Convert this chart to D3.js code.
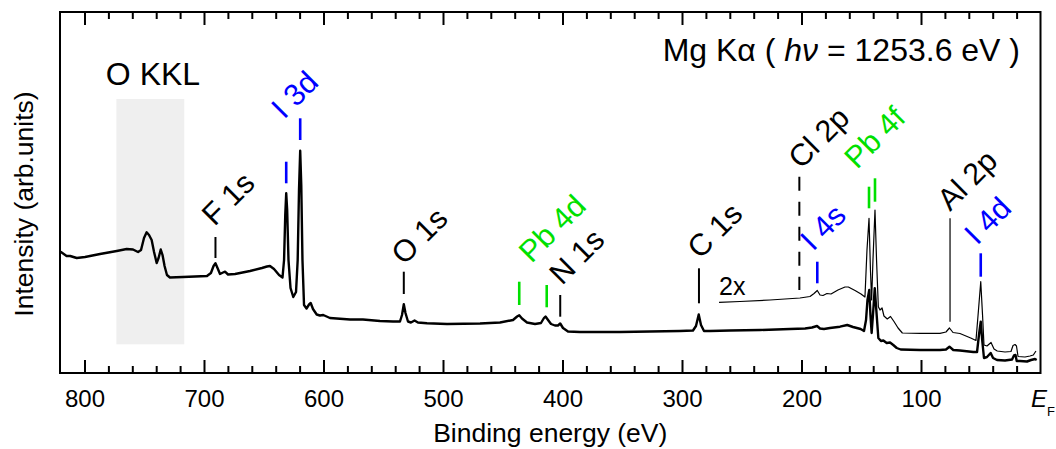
<!DOCTYPE html>
<html>
<head>
<meta charset="utf-8">
<script src="https://cdn.jsdelivr.net/npm/d3@7/dist/d3.min.js"></script>
<style>
  html, body { margin: 0; padding: 0; background: #fff; }
  svg { display: block; font-family: "Liberation Sans", Arial, Helvetica, sans-serif; }
</style>
</head>
<body>
<svg id="chart" width="1056" height="449"></svg>
<script>
// ---------------- DATA ----------------
// Main survey spectrum: binding energy (eV) and intensity (arb. units)
const mainEnergy = [820.5,819.7,815,812,806.5,799.6,787,773,764.7,759.4,755.2,752.7,750.2,748,746,743.8,741.8,739.6,738,736.2,734.7,733,731,728.5,717.6,707.5,697.5,694.2,692,690.4,688.7,686.6,684.1,682.4,679.9,674,661.5,651.5,647.3,644.8,641.4,637.2,634.3,633,632,631.2,630.4,629.3,627.6,625.3,623,621.6,620.5,619.5,618.6,617.6,616.3,614.2,612.1,610.7,608.8,605.7,603,600.2,594.6,589,577.8,567,552.7,541.8,536,534.3,532.8,531.4,529.3,526.8,523.8,521,513.4,496.6,469,452.3,441.4,438,436.2,433.9,429.7,423,418,415.5,414.2,412.1,409.6,406.3,403.8,401.9,399.6,395.4,385.4,368.6,351.9,326.8,301.7,290.8,288.3,286,284.1,281.6,276.6,259.8,234.7,209.6,197,191.2,187,184.5,181.2,176.2,167.8,161.7,156.9,150.5,147.7,146,144.8,143.3,142.3,141.3,140.2,138.7,137.4,135.7,133.5,131.5,128.7,125.9,123.2,120.3,117,100.8,84.1,79.1,76.2,73,67.4,56.2,53.1,51.5,50,48.8,47.3,44.8,41.7,39.7,36.4,29.7,23.8,22.2,20.9,19.9,17.2,11.3,7.9,4.6,3.2];
const mainIntensity = [121,121,117,117,115,116,119,122,124,123.5,121,123,135,140.7,138,133,121,110,115,123.5,118,107,98,95.5,96,96.5,97,100,107,109.7,105,99,100.5,101.3,98.5,99,102,105,106.5,107,104,98,95.5,113,158,179.7,163,113,85,76,81,113,183,222.3,188,113,68,64.5,68.5,70,64,58.5,57.5,58,55,54.5,53.5,53.5,52,51.5,51.5,58,68.7,60,51.5,50.5,52.5,50.5,49.7,49,49.5,50.5,53,56.5,57.7,54.5,50.5,49,50,55,56.5,53,49,47.5,47.5,49.5,45,41.5,41,41,41,41.5,42,42.5,47,58.5,48,42,42,42.5,43,44,44.5,45.5,47,44.5,44,45,46.3,48,46,44,42,53,73,83,58,40,58,84.7,63,35,32,32.5,30,30.5,28,25,23.5,23,23,23.5,26.3,23,22.5,21,21,38,51.3,33,15,16,20,15,13,12.5,13.5,17.5,18,12,12,11.5,13,14,13];

// Magnified (2x) low-binding-energy part of the spectrum
const zoomEnergy = [269,251.5,226.4,201.3,192.9,189.5,186.8,184.5,182,178.7,175.3,169.5,163.6,160.8,155.2,150.2,146.9,145.2,143.5,142.3,141.3,140.2,138.5,137.2,135.7,134.3,132.6,131,128.2,125.5,122.6,119.2,115.6,100.8,84.1,79.1,76.2,73.2,67.4,58.4,54,51.9,50,48.5,47.3,44.8,41.4,38.9,36.2,29.7,24.7,23,21.3,20.1,18.8,13,8.8,6,3.8];
const zoomIntensity = [70.7,71.5,73,75,76.5,79.5,82.5,78,77.5,79.5,79,83,86,86,82.5,79,76,123,154.7,103,73,113,163,113,66.3,63,65,57,54,56.5,51.5,45,40,39.7,39.7,41,45,40.5,39.5,35,32.5,63,91.3,58,28,27,30.5,24,22,21,21.5,27.5,28.5,27,16.5,16,17,18,22];

// Axis ticks
const majorTicks = [800,700,600,500,400,300,200,100];
const minorTicks = [780,760,740,720,680,660,640,620,580,560,540,520,480,460,440,420,380,360,340,320,280,260,240,220,180,160,140,120,80,60,40,20];

// Peak assignments (label text, label energy, label intensity level)
const peakNames      = ["F 1s","I 3d","O 1s","Pb 4d","N 1s","C 1s","Cl 2p","I 4s","Pb 4f","Al 2p","I 4d"];
const peakLabelE     = [691.2, 633, 532.6, 426, 400.4, 285, 200.4, 190.4, 153.6, 75.7, 53.1];
const peakLabelI     = [146, 253, 107, 109, 87, 113, 203, 121, 203, 161, 127];
const peakGroup      = ["other","iodine","other","lead","other","other","other","iodine","lead","other","iodine"];

// Marker ticks: energy, top and bottom intensity level, group, style
const markerE      = [690.4, 631.2, 619.5, 532.8, 436.2, 413.2, 401.9, 285.8, 201.8, 186.8, 143.5, 138.5, 75.7, 50];
const markerTop    = [136, 211.3, 254.7, 101.3, 91.3, 88, 78, 104.7, 196.3, 111.3, 186.3, 194.7, 154.7, 119.7];
const markerBottom = [115, 189.7, 233, 79, 68, 65.7, 56.3, 69.7, 83, 89.7, 164.7, 171.3, 51.3, 96.3];
const markerGroup  = ["other","iodine","iodine","other","lead","lead","other","other","other","iodine","lead","lead","other","iodine"];
const markerKind   = ["solid","solid","solid","solid","solid","solid","solid","solid","dashed","solid","solid","solid","thin","solid"];

// O KKL Auger region (energy span, intensity span)
const augerE = [773.3, 716.5];
const augerI = [28.7, 274];

// ---------------- LAYOUT ----------------
const svg = d3.select("#chart");
const L = 60, R = 1040.5, T = 12, B = 373;
const FONT = '"Liberation Sans", Arial, Helvetica, sans-serif';
const colors = { other: "#000000", iodine: "#0000ff", lead: "#00e000" };

const x = d3.scaleLinear().domain([820.5, 0]).range([L, R]);
const y = d3.scaleLinear().domain([0, 361]).range([B, T]);

// Auger shaded region
svg.append("rect")
  .attr("x", x(augerE[0])).attr("width", x(augerE[1]) - x(augerE[0]))
  .attr("y", y(augerI[1])).attr("height", y(augerI[0]) - y(augerI[1]))
  .attr("fill", "#efefef");

svg.append("text")
  .attr("x", 153).attr("y", 85)
  .attr("text-anchor", "middle")
  .attr("font-size", 32)
  .text("O KKL");

// Axes: bottom
const gB = svg.append("g").attr("transform", `translate(0,${B})`);
gB.call(d3.axisBottom(x).tickValues(majorTicks).tickSize(-13).tickPadding(17).tickFormat(d3.format("d")));
gB.append("g").call(d3.axisBottom(x).tickValues(minorTicks).tickSize(-7).tickFormat(""));
// Axes: top
const gT = svg.append("g").attr("transform", `translate(0,${T})`);
gT.call(d3.axisTop(x).tickValues(majorTicks).tickSize(-13).tickFormat(""));
gT.append("g").call(d3.axisTop(x).tickValues(minorTicks).tickSize(-7).tickFormat(""));

svg.selectAll(".domain").remove();
svg.selectAll(".tick line").attr("stroke", "#000").attr("stroke-width", 2);
gB.selectAll(".tick text").attr("font-size", 24).attr("font-family", FONT).attr("fill", "#000");

// Frame
svg.append("rect")
  .attr("x", L).attr("y", T).attr("width", R - L).attr("height", B - T)
  .attr("fill", "none").attr("stroke", "#000").attr("stroke-width", 2);

// E_F label
const ef = svg.append("text").attr("x", 1031).attr("y", 407).attr("font-size", 24);
ef.append("tspan").attr("font-style", "italic").text("E");
ef.append("tspan").attr("font-size", 13).attr("dy", 9).text("F");

// Axis titles
svg.append("text")
  .attr("x", (L + R) / 2).attr("y", 442)
  .attr("text-anchor", "middle").attr("font-size", 26.5)
  .text("Binding energy (eV)");
svg.append("text")
  .attr("transform", "translate(33,204) rotate(-90)")
  .attr("text-anchor", "middle").attr("font-size", 26.5)
  .text("Intensity (arb.units)");

// Spectra
const line = d3.line().x(d => x(d[0])).y(d => y(d[1])).curve(d3.curveLinear);
const mainData = mainEnergy.map((e, i) => [e, mainIntensity[i]]);
const zoomData = zoomEnergy.map((e, i) => [e, zoomIntensity[i]]);

svg.append("path").datum(zoomData)
  .attr("d", line).attr("fill", "none").attr("stroke", "#000")
  .attr("stroke-width", 1.2).attr("stroke-linejoin", "round");
svg.append("path").datum(mainData)
  .attr("d", line).attr("fill", "none").attr("stroke", "#000")
  .attr("stroke-width", 2.4).attr("stroke-linejoin", "round");

svg.append("text").attr("x", x(269)).attr("y", y(78)).attr("font-size", 25).text("2x");

// Peak markers
markerE.forEach((e, i) => {
  const kind = markerKind[i];
  const grp = markerGroup[i];
  svg.append("line")
    .attr("x1", x(e)).attr("x2", x(e))
    .attr("y1", y(markerTop[i])).attr("y2", y(markerBottom[i]))
    .attr("stroke", colors[grp])
    .attr("stroke-width", kind === "thin" ? 1.2 : (grp === "other" ? 2 : 2.6))
    .attr("stroke-dasharray", kind === "dashed" ? "14,11" : null);
});

// Peak labels (rotated)
peakNames.forEach((n, i) => {
  const px = x(peakLabelE[i]), py = y(peakLabelI[i]);
  svg.append("text")
    .attr("x", px).attr("y", py)
    .attr("transform", `rotate(-45,${px},${py})`)
    .attr("font-size", 30.5)
    .attr("fill", colors[peakGroup[i]])
    .text(n);
});

// Excitation source label
const src = svg.append("text").attr("x", 1020).attr("y", 61).attr("text-anchor", "end").attr("font-size", 32);
src.append("tspan").text("Mg K\u03B1 ( ");
src.append("tspan").attr("font-style", "italic").text("h\u03BD");
src.append("tspan").text(" = 1253.6 eV )");
</script>
</body>
</html>
